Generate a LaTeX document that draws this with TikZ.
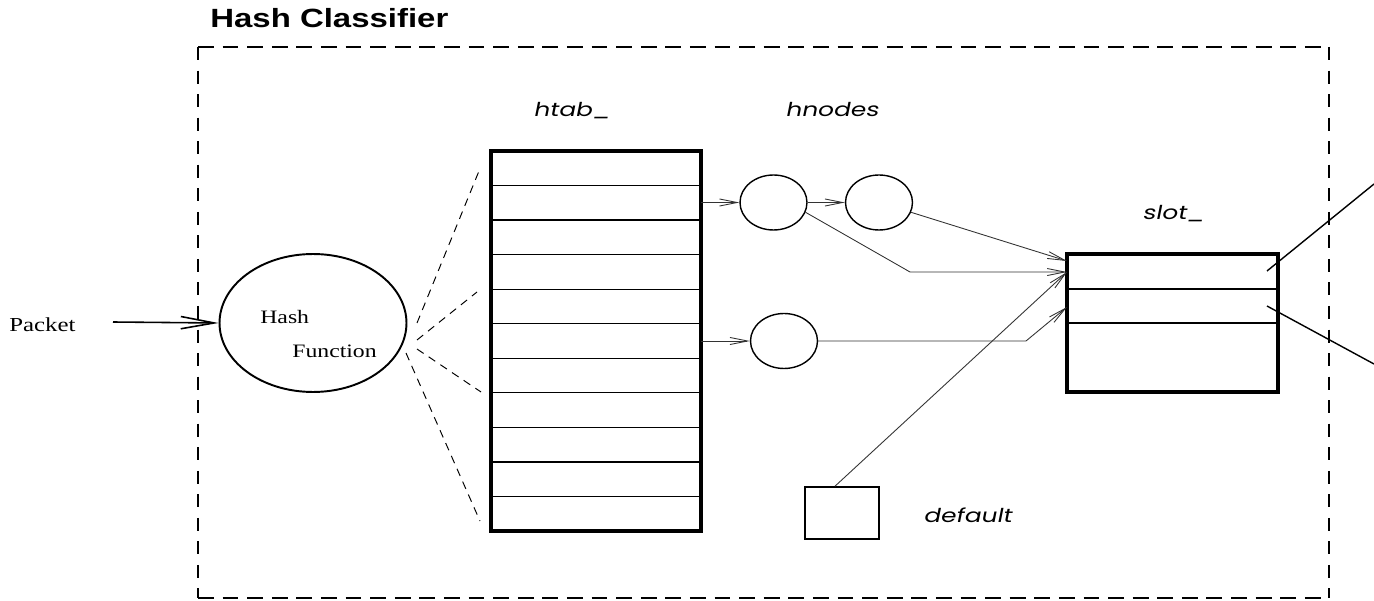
\documentclass[tikz,border=0pt]{standalone}
\usepackage{fontspec}
\usetikzlibrary{arrows.meta,shapes.geometric,calc}
\newfontfamily\titlefont[FakeStretch=1.25]{Liberation Sans}
\newfontfamily\romanfont[FakeStretch=1.25]{Liberation Serif}
\newfontfamily\labelfont[FakeStretch=1.3,FakeSlant=0.2]{Poppins}

\tikzset{
  frameline/.style={line width=1.1pt},
  fanline/.style={line width=0.55pt, dash pattern=on 4.5pt off 3.5pt},
  table/.style={draw, rectangle, line width=1.8pt, inner sep=0pt, outer sep=0pt},
  rowline/.style={line width=0.75pt},
  hnode/.style={draw, ellipse, line width=0.8pt, minimum width=1.34cm, minimum height=1.1cm, inner sep=0pt},
  link/.style={line width=0.5pt, draw=black!80, -{Straight Barb[length=10pt,width=4pt]}},
  outline/.style={line width=0.8pt},
  title/.style={font=\titlefont\bfseries\fontsize{15}{18}\selectfont, inner sep=0pt, anchor=base west},
  rlabel/.style={font=\romanfont\fontsize{11.3}{13}\selectfont, inner sep=0pt, anchor=base west},
  hlabel/.style={font=\romanfont\fontsize{10.8}{13}\selectfont, inner sep=0pt, anchor=base west},
  ilabel/.style={font=\labelfont\fontsize{10.9}{13}\selectfont, inner sep=0pt, anchor=base west},
}

\begin{document}
\begin{tikzpicture}[x=0.02cm, y=-0.02cm]
  \useasboundingbox (0,0) rectangle (1374,601);

  % classifier boundary
  \draw[frameline, dash pattern=on 9pt off 5pt] (198,47) -- (1329,47);
  \draw[frameline, dash pattern=on 9pt off 5pt] (198,598) -- (1329,598);
  \draw[frameline, dash pattern=on 7.4pt off 6pt] (198,47) -- (198,598);
  \draw[frameline, dash pattern=on 7.4pt off 6pt] (1329,47) -- (1329,598);
  \node[title] (ttl) at (210,28) {Hash Classifier};

  % incoming packet and hash function
  \node[rlabel] (pkt) at (9,332) {Packet};
  \node[draw, ellipse, line width=1.1pt, minimum width=3.74cm, minimum height=2.76cm, inner sep=0pt] (hash) at (313,323) {};
  \node[hlabel] (hashA) at (260,324) {Hash};
  \node[hlabel] (hashB) at (292,358) {Function};
  \coordinate (pin) at (113,322);
  \draw[line width=0.9pt, -{Straight Barb[length=19pt,width=7pt]}] (pin) -- (hash.west);

  % hash table
  \node[table, minimum width=4.2cm, minimum height=7.6cm] (htab) at (596,341) {};
  \foreach \i in {1,...,10}
    \draw[rowline] ([yshift=-\i*0.691cm]htab.north west) -- ([yshift=-\i*0.691cm]htab.north east);
  \node[ilabel] (htabl) at (533,117) {htab\_};
  \node[ilabel] (hnl) at (785,117) {hnodes};

  % fan from the hash function to the table
  \coordinate (f1a) at (417,323); \coordinate (f1b) at (479,171);
  \coordinate (f2a) at (417,340); \coordinate (f2b) at (477,292);
  \coordinate (f3a) at (417,349); \coordinate (f3b) at (481,392);
  \coordinate (f4a) at (406,353); \coordinate (f4b) at (480,521);
  \draw[fanline] (f1a) -- (f1b);
  \draw[fanline] (f2a) -- (f2b);
  \draw[fanline] (f3a) -- (f3b);
  \draw[fanline] (f4a) -- (f4b);

  % hash nodes
  \node[hnode] (hn1) at (773.5,202.5) {};
  \node[hnode] (hn2) at (879,202.5) {};
  \node[hnode] (hn3) at (784,341) {};

  % slot table and default
  \node[table, minimum width=4.22cm, minimum height=2.76cm] (slot) at (1172.5,323) {};
  \draw[outline] ([yshift=-0.7cm]slot.north west) -- ([yshift=-0.7cm]slot.north east);
  \draw[outline] ([yshift=-1.38cm]slot.north west) -- ([yshift=-1.38cm]slot.north east);
  \node[ilabel] (slotl) at (1142,220) {slot\_};
  \node[draw, rectangle, line width=0.9pt, minimum width=1.48cm, minimum height=1.04cm, inner sep=0pt] (dflt) at (842,513) {};
  \node[ilabel] (dfl) at (923,522) {default};

  % links
  \coordinate (s1) at ($(slot.north west)+(0,7)$);
  \coordinate (s2) at ($(slot.north west)+(0,18)$);
  \coordinate (s3) at ($(slot.north west)+(0,53)$);
  \coordinate (b1) at (910,272);
  \coordinate (b2) at (1026,341);
  \draw[link] (hn1 -| htab.east) -- (hn1.west);
  \draw[link] (hn1.east) -- (hn2.west);
  \draw[link] (hn3 -| htab.east) -- (hn3.west);
  \draw[link] (hn2.-17) -- (s1);
  \draw[link] (hn1.-17) -- (b1) -- (s2);
  \draw[link] (hn3.east) -- (b2) -- (s3);
  \draw[link] ([xshift=-4]dflt.north) -- (s2);

  % outgoing targets
  \coordinate (o1s) at (1267,271); \coordinate (o1e) at (1374,184);
  \coordinate (o2s) at (1267,306); \coordinate (o2e) at (1374,364);
  \draw[outline] (o1s) -- (o1e);
  \draw[outline] (o2s) -- (o2e);
\end{tikzpicture}
\end{document}
